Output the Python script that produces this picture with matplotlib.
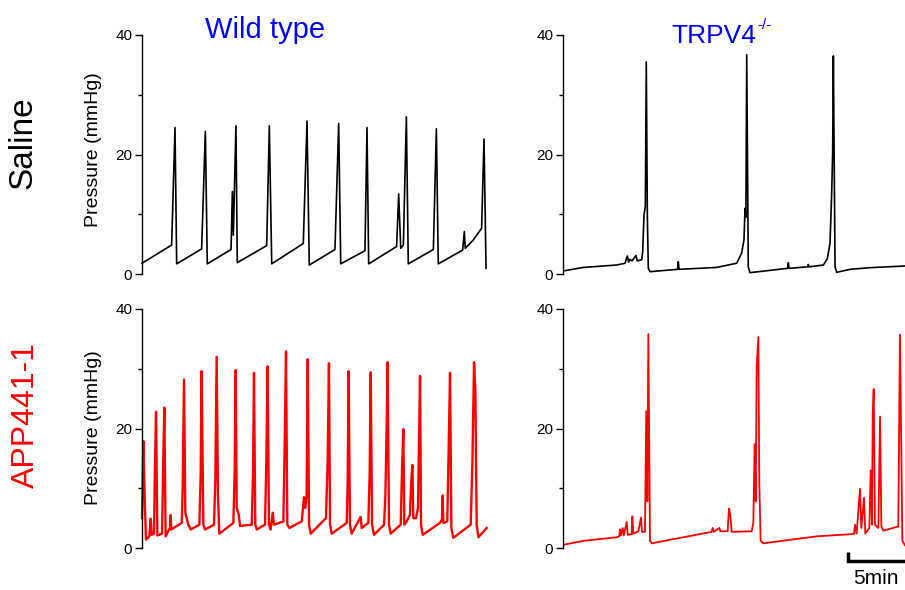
import matplotlib
matplotlib.use('Agg')
import matplotlib.pyplot as plt
from matplotlib.ticker import MultipleLocator

plt.rcParams['font.family'] = ['Liberation Sans', 'DejaVu Sans']

W, H = 905, 590

# time (min) / pressure (mmHg)
wt_saline_t = [0.0, 2.47, 2.75, 2.89, 4.97, 5.28, 5.44, 7.42, 7.53, 7.61, 7.83, 7.94,
               10.39, 10.61, 10.81, 13.44, 13.75, 13.94, 16.08, 16.39, 16.56,
               18.58, 18.75, 18.89, 21.22, 21.39, 21.56, 21.78, 22.03, 22.19,
               24.28, 24.53, 24.69, 26.72, 26.86, 26.94, 27.61, 28.30, 28.50, 28.67]
wt_saline_p = [1.8, 4.85, 24.5, 1.7, 4.2, 23.9, 1.7, 4.1, 13.8, 6.5, 24.8, 1.9,
               4.75, 24.8, 1.7, 5.1, 25.6, 1.5, 4.1, 25.2, 1.7,
               3.9, 24.5, 1.7, 4.6, 13.4, 4.3, 4.85, 26.3, 1.7,
               4.1, 24.3, 1.7, 4.0, 7.1, 4.3, 5.7, 7.65, 22.6, 0.95]

ko_saline_t = [0.17, 1.69, 4.47, 5.17, 5.36, 5.47, 5.58, 5.75, 6.08, 6.19, 6.56,
               6.64, 6.75, 6.86, 6.94, 7.03, 7.11, 7.25, 9.55, 9.61, 9.67, 12.8,
               14.47, 14.89, 15.08, 15.17, 15.24, 15.31, 15.44, 15.58, 18.72, 18.78,
               18.84, 20.4, 20.44, 20.5, 21.7, 22.03, 22.25, 22.39, 22.47, 22.53,
               22.67, 22.8, 23.92, 25.58, 28.5]
ko_saline_p = [0.56, 1.1, 1.5, 1.8, 3.0, 2.0, 2.45, 2.2, 3.1, 2.2, 2.4,
               3.7, 9.9, 11.3, 35.5, 9.6, 0.95, 0.39, 0.78, 2.07, 0.78, 1.1,
               1.8, 3.5, 5.7, 11.0, 9.5, 36.7, 1.2, 0.22, 0.95, 1.9,
               0.95, 1.2, 1.6, 1.2, 1.5, 2.6, 5.1, 13.5, 20.2, 36.5,
               1.2, 0.28, 0.78, 1.06, 1.34]

wt_app_t = [0.0, 0.11, 0.22, 0.33, 0.61, 0.72, 0.81, 1.0, 1.08, 1.17, 1.28,
            1.67, 1.75, 1.86, 1.97, 2.33, 2.39, 2.44,
            3.31, 3.39, 3.5, 3.61, 3.86, 4.06,
            4.78, 4.89, 4.97, 5.11, 5.25,
            6.0, 6.11, 6.22, 6.33, 6.44,
            7.61, 7.72, 7.81, 7.89, 8.06, 8.17,
            9.14, 9.25, 9.33, 9.44, 9.56,
            10.25, 10.36, 10.47, 10.58, 10.72, 10.89, 11.0,
            11.78, 11.89, 12.0, 12.11, 12.28,
            13.31, 13.5, 13.61, 13.72, 13.81, 13.92, 14.06,
            15.33, 15.47, 15.58, 15.67, 15.81,
            17.06, 17.14, 17.22, 17.33, 17.47, 18.22, 18.31,
            18.86, 18.97, 19.06, 19.17, 19.33,
            20.17, 20.28, 20.39, 20.47, 20.58, 20.72,
            21.56, 21.67, 21.78, 21.86, 22.06,
            22.33, 22.44, 22.53, 22.61, 22.83,
            23.0, 23.08, 23.17, 23.25, 23.39,
            24.83, 25.0, 25.06, 25.11,
            25.44, 25.56, 25.67, 25.78, 25.94,
            27.39, 27.53, 27.67, 27.78, 27.89, 28.03, 28.31, 28.72]
wt_app_p = [5.0, 17.9, 8.9, 1.4, 1.95, 4.9, 2.2, 2.4, 13.7, 22.8, 2.1,
            2.4, 12.0, 23.5, 1.95, 3.35, 5.5, 3.1,
            4.2, 10.0, 28.2, 5.9, 3.9, 3.1,
            3.9, 12.2, 29.6, 3.9, 3.1,
            3.9, 11.2, 32.0, 8.9, 2.4,
            4.2, 12.2, 29.8, 6.7, 5.6, 3.7,
            3.9, 12.2, 29.3, 3.9, 3.1,
            3.9, 14.5, 30.4, 3.9, 3.1, 5.9, 3.9,
            4.45, 17.3, 32.9, 3.9, 3.35,
            4.45, 8.5, 6.7, 8.9, 31.6, 3.9, 2.4,
            5.0, 14.5, 30.9, 3.9, 2.4,
            4.2, 11.2, 29.6, 3.9, 2.4, 5.2, 3.35,
            4.2, 12.2, 29.4, 3.9, 2.2,
            3.9, 8.7, 20.6, 31.1, 3.9, 2.4,
            3.9, 13.4, 19.9, 3.9, 4.45,
            5.6, 11.2, 13.9, 5.0, 5.0,
            6.7, 17.3, 28.8, 3.9, 2.2,
            4.2, 4.8, 8.8, 4.2,
            4.45, 17.0, 29.3, 3.35, 1.7,
            3.9, 13.9, 31.1, 26.2, 3.9, 1.8, 2.4, 3.35]

ko_app_t = [0.08, 1.69, 4.47, 4.69, 4.75, 4.83, 4.97, 5.06, 5.31, 5.39, 5.72, 5.78,
            5.86, 6.28, 6.5, 6.58, 6.83, 6.94, 7.03, 7.11, 7.25, 7.39, 10.03,
            12.39, 12.47, 12.56, 13.03, 13.11, 13.72, 13.83, 13.94, 14.06,
            15.72, 15.86, 15.97, 16.06, 16.14, 16.28, 16.36, 16.47, 16.69,
            21.14, 23.92, 24.25, 24.33, 24.47, 24.75, 24.86, 25.08, 25.19,
            25.53, 25.64, 25.75, 25.81, 25.89, 26.0, 26.28, 26.42, 26.53,
            26.69, 27.94, 28.08, 28.28, 28.5]
ko_app_p = [0.56, 1.2, 1.8, 1.95, 3.1, 2.1, 3.35, 2.1, 4.35, 2.2, 2.3, 5.3,
            2.4, 2.8, 5.1, 2.7, 2.7, 22.9, 7.8, 35.8, 1.2, 0.78, 1.8,
            2.7, 3.35, 2.7, 3.35, 2.8, 2.8, 6.6, 5.6, 2.7,
            2.8, 4.2, 17.4, 7.8, 30.4, 35.3, 10.6, 1.2, 0.78,
            1.95, 2.3, 2.4, 3.9, 2.4, 9.9, 3.35, 8.4, 2.4,
            3.35, 13.0, 3.9, 22.2, 26.6, 3.9, 3.35, 22.0, 3.6,
            2.9, 3.6, 35.7, 1.2, 0.45]

col_titles = ['Wild type', 'TRPV4']
row_titles = ['Saline', 'APP441-1']
y_ticks = [0, 20, 40]


def fig_xy(px, py):
    return px / W, 1 - py / H


fig = plt.figure(figsize=(W / 100, H / 100), dpi=100)

panels = [
    (wt_saline_t, wt_saline_p, 'black', (142, 274, 360), 30.0, 1.2),
    (ko_saline_t, ko_saline_p, 'black', (563, 274, 342), 28.5, 1.2),
    (wt_app_t, wt_app_p, '#ff0000', (142, 548, 360), 30.0, 1.7),
    (ko_app_t, ko_app_p, '#ff0000', (563, 548, 342), 28.5, 1.3),
]
axes = []
for t, p, color, (px0, pybot, pw), xmax, lw in panels:
    x0, y0 = fig_xy(px0, pybot)
    ax = fig.add_axes([x0, y0, pw / W, 239 / H])
    ax.plot(t, p, color=color, lw=lw, clip_on=False)
    ax.set_xlim(0, xmax)
    ax.set_ylim(0, 40)
    for s in ['top', 'right', 'bottom']:
        ax.spines[s].set_visible(False)
    ax.spines['left'].set_linewidth(1.0)
    ax.set_xticks([])
    ax.set_yticks(y_ticks)
    ax.yaxis.set_minor_locator(MultipleLocator(10))
    ax.tick_params(axis='y', which='major', length=5, width=1, labelsize=11, pad=2)
    ax.tick_params(axis='y', which='minor', length=3, width=1)
    axes.append(ax)

# y labels on the left column
for py in [150, 428]:
    fig.text(*fig_xy(93, py), 'Pressure (mmHg)', rotation=90, fontsize=14,
             ha='center', va='center')

# row labels
fig.text(*fig_xy(23, 143), row_titles[0], rotation=90, fontsize=24,
         ha='center', va='center', color='black')
fig.text(*fig_xy(26, 415), row_titles[1], rotation=90, fontsize=23,
         ha='center', va='center', color='#ff0000')

# column titles
fig.text(*fig_xy(205, 38), col_titles[0], fontsize=21, color='#0000ff',
         ha='left', va='baseline')
fig.text(*fig_xy(671, 43), col_titles[1], fontsize=19, color='#0000ff',
         ha='left', va='baseline')
fig.text(*fig_xy(757, 29), '-/-', fontsize=11, color='#0000ff',
         ha='left', va='baseline')

# 5 min scale bar under the last panel
ax = axes[3]
ax.plot([23.72, 23.72, 28.72], [-0.6, -2.2, -2.2], color='black', lw=2.5,
        clip_on=False, solid_capstyle='butt', solid_joinstyle='miter')
fig.text(*fig_xy(853, 588), '5min', fontsize=15, ha='left', va='bottom')

plt.savefig('out.png', dpi=100)
